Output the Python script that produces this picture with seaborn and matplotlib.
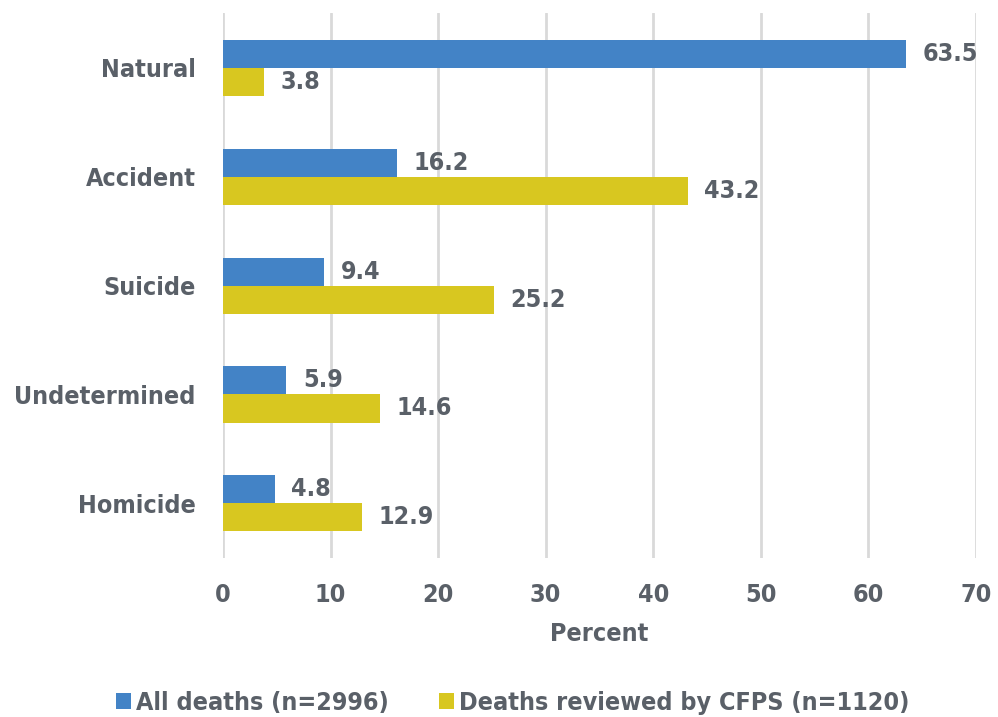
import matplotlib
matplotlib.use("Agg")
import matplotlib.pyplot as plt
import seaborn as sns
import pandas as pd

categories = ["Natural", "Accident", "Suicide", "Undetermined", "Homicide"]
series_names = ["All deaths (n=2996)", "Deaths reviewed by CFPS (n=1120)"]
all_deaths = [63.5, 16.2, 9.4, 5.9, 4.8]
cfps_reviewed = [3.8, 43.2, 25.2, 14.6, 12.9]
x_ticks = [0, 10, 20, 30, 40, 50, 60, 70]

colors = ["#4383c6", "#d8c720"]
text_color = "#5a6068"
grid_color = "#d9d9d9"
fs = 18

sns.set_theme(style="white")
plt.rcParams["font.family"] = ["DejaVu Sans"]
plt.rcParams["font.stretch"] = "condensed"
plt.rcParams["font.weight"] = "bold"

df = pd.DataFrame({
    "Cause": categories * 2,
    "Percent": all_deaths + cfps_reviewed,
    "Group": [series_names[0]] * len(categories) + [series_names[1]] * len(categories),
})

fig = plt.figure(figsize=(9.98, 7.17), dpi=100)
ax = fig.add_axes([0.2234, 0.2218, 0.7545, 0.760])

sns.barplot(data=df, x="Percent", y="Cause", hue="Group", order=categories,
            hue_order=series_names, palette=colors, orient="h", width=0.514,
            gap=0, saturation=1, linewidth=0, ax=ax, legend=True)

for cont in ax.containers:
    ax.bar_label(cont, fmt="%.1f", padding=12, fontsize=fs, fontweight="bold",
                 color=text_color)

ax.set_xlim(0, 70)
ax.set_ylim(4.5, -0.5)
ax.set_xticks(x_ticks)
ax.set_xticklabels([str(t) for t in x_ticks])
ax.tick_params(axis="x", length=0, pad=18, labelsize=fs, labelcolor=text_color)
ax.tick_params(axis="y", length=0, pad=19.5, labelsize=fs, labelcolor=text_color)
for lab in ax.get_xticklabels() + ax.get_yticklabels():
    lab.set_fontweight("bold")

ax.set_xlabel("Percent", fontsize=fs, fontweight="bold", color=text_color, labelpad=11)
ax.set_ylabel("")

ax.grid(axis="x", color=grid_color, linewidth=2)
ax.grid(axis="y", visible=False)
ax.set_axisbelow(True)
for s in ax.spines.values():
    s.set_visible(False)

handles, labels = ax.get_legend_handles_labels()
ax.get_legend().remove()
fig.legend(handles, labels, loc="center", bbox_to_anchor=(0.5135, 0.02),
           ncol=2, frameon=False, handlelength=0.6, handleheight=0.6,
           handletextpad=0.2, columnspacing=2.0, borderpad=0.1,
           prop={"size": fs, "weight": "bold"}, labelcolor=text_color)

fig.savefig("out.png", dpi=100)
